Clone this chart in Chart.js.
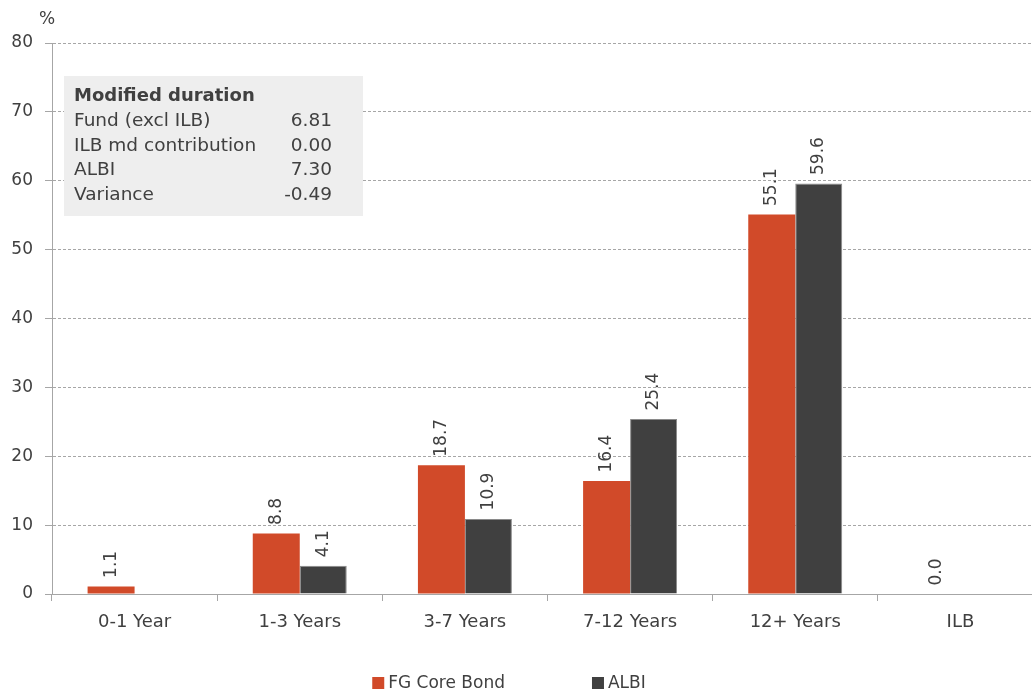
<!DOCTYPE html>
<html>
<head>
<meta charset="utf-8">
<script src="https://cdn.jsdelivr.net/npm/chart.js@4/dist/chart.umd.min.js"></script>
<style>
  html, body { margin: 0; padding: 0; overflow: hidden; background: #ffffff; }
  #wrap { position: absolute; left: 0; top: 0; width: 1043px; height: 691px; }
</style>
</head>
<body>
<div id="wrap"><canvas id="c" width="1043" height="691" style="width:1043px;height:691px"></canvas></div>
<script>
const categories = ['0-1 Year', '1-3 Years', '3-7 Years', '7-12 Years', '12+ Years', 'ILB'];
const fgCoreBond = [1.1, 8.8, 18.7, 16.4, 55.1, 0.0];
const albi = [null, 4.1, 10.9, 25.4, 59.6, null];
const seriesNames = ['FG Core Bond', 'ALBI'];
const yTicks = [0, 10, 20, 30, 40, 50, 60, 70, 80];
const boxTitle = 'Modified duration';
const boxRows = ['Fund (excl ILB)', 'ILB md contribution', 'ALBI', 'Variance'];
const boxValues = ['6.81', '0.00', '7.30', '-0.49'];
const unitLabel = '%';

const FONT = "'DejaVu Sans', Verdana, sans-serif";
const TEXT = '#404040';
const GRID = '#a6a6a6';

const dataLabels = {
  id: 'dataLabels',
  afterDatasetsDraw(chart) {
    const ctx = chart.ctx;
    ctx.save();
    ctx.font = '17px ' + FONT;
    ctx.fillStyle = TEXT;
    ctx.textAlign = 'left';
    ctx.textBaseline = 'middle';
    chart.data.datasets.forEach((ds, di) => {
      const meta = chart.getDatasetMeta(di);
      meta.data.forEach((el, i) => {
        const v = ds.data[i];
        if (v === null || v === undefined) return;
        ctx.save();
        ctx.translate(el.x, el.y - 8.5);
        ctx.rotate(-Math.PI / 2);
        ctx.fillText(v.toFixed(1), 0, 0);
        ctx.restore();
      });
    });
    ctx.restore();
  }
};

const infoBox = {
  id: 'infoBox',
  beforeDatasetsDraw(chart) {
    const ctx = chart.ctx;
    const a = chart.chartArea;
    const x0 = a.left + 12, y0 = 76, w = 299, h = 140;
    ctx.save();
    ctx.fillStyle = '#eeeeee';
    ctx.fillRect(x0, y0, w, h);
    ctx.fillStyle = TEXT;
    ctx.textBaseline = 'middle';
    ctx.textAlign = 'left';
    ctx.font = 'bold 18px ' + FONT;
    ctx.fillText(boxTitle, x0 + 10, 96);
    ctx.font = '18.5px ' + FONT;
    boxRows.forEach((r, i) => {
      const y = 121 + i * 24.8;
      ctx.textAlign = 'left';
      ctx.fillText(r, x0 + 10, y);
      ctx.textAlign = 'right';
      ctx.fillText(boxValues[i], x0 + 268, y);
    });
    // unit label
    ctx.font = '17px ' + FONT;
    ctx.textAlign = 'center';
    ctx.fillText(unitLabel, 47, 20);
    ctx.restore();
  }
};

const customLegend = {
  id: 'customLegend',
  afterDraw(chart) {
    const ctx = chart.ctx;
    ctx.save();
    ctx.font = '17px ' + FONT;
    ctx.textBaseline = 'middle';
    ctx.textAlign = 'left';
    const ds = chart.data.datasets;
    const gap = 87, box = 12, tg = 4;
    const widths = ds.map(d => box + tg + ctx.measureText(d.label).width);
    const total = widths.reduce((s, w) => s + w, 0) + gap * (ds.length - 1);
    let x = 509 - total / 2;
    const y = 683;
    ds.forEach((d, i) => {
      ctx.fillStyle = d.backgroundColor;
      ctx.fillRect(x, y - 6, box, box);
      ctx.fillStyle = TEXT;
      ctx.fillText(d.label, x + box + tg, y + 1);
      x += widths[i] + gap;
    });
    ctx.restore();
  }
};

new Chart(document.getElementById('c'), {
  type: 'bar',
  data: {
    labels: categories,
    datasets: [
      { label: seriesNames[0], data: fgCoreBond, backgroundColor: '#d14a29', borderWidth: 0,
        categoryPercentage: 0.569, barPercentage: 1.0 },
      { label: seriesNames[1], data: albi, backgroundColor: '#404040', borderColor: '#8a8a8a', borderWidth: 1,
        categoryPercentage: 0.569, barPercentage: 1.0 }
    ]
  },
  options: {
    responsive: false,
    animation: false,
    devicePixelRatio: 1,
    layout: { padding: { left: 0, right: 0, top: 43, bottom: 46 } },
    plugins: {
      legend: { display: false },
      tooltip: { enabled: false },
      title: { display: false }
    },
    scales: {
      x: {
        grid: { display: true, drawOnChartArea: false, offset: true, tickLength: 7, color: GRID, tickColor: GRID },
        border: { display: true, color: GRID, width: 1 },
        ticks: { color: TEXT, font: { family: FONT, size: 18 }, padding: 11, maxRotation: 0, autoSkip: false },
        afterFit(s) { s.height = 51; }
      },
      y: {
        min: 0, max: 80,
        afterBuildTicks(s) { s.ticks = yTicks.map(v => ({ value: v })); },
        grid: { color: GRID, lineWidth: 1, tickLength: 7, tickColor: GRID, tickBorderDash: [], drawTicks: true },
        border: { display: true, color: GRID, width: 1, dash: [3, 2] },
        ticks: { color: TEXT, font: { family: FONT, size: 17 }, padding: 12 },
        afterFit(s) { s.width = 52; }
      }
    }
  },
  plugins: [infoBox, dataLabels, customLegend]
});
</script>
</body>
</html>
